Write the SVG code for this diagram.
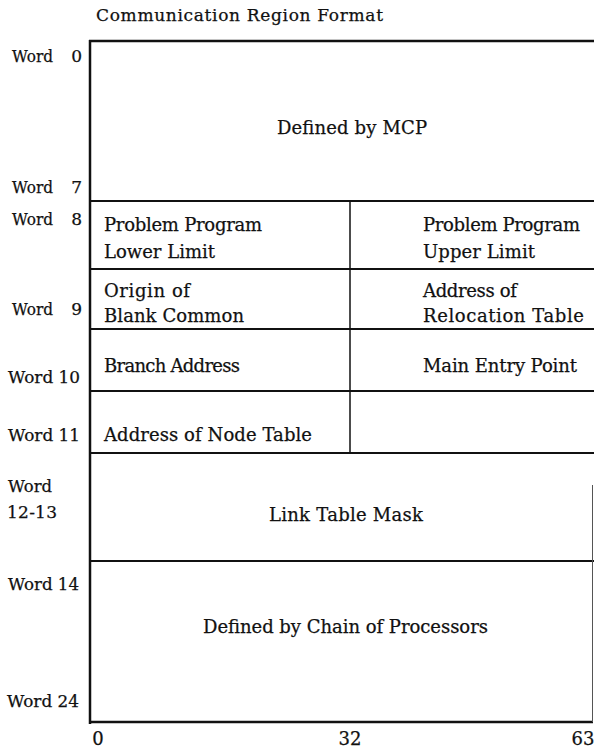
<svg xmlns="http://www.w3.org/2000/svg" width="594" height="750" viewBox="0 0 594 750">
<style>
text{font-family:"DejaVu Serif","Liberation Serif",serif;font-size:18px;fill:#111;stroke:#111;stroke-width:0.25}
.t{font-size:17px}
.w{font-size:17px}
.ax{font-size:18px}
.l{stroke:#111;fill:none}
</style>
<rect width="594" height="750" fill="#fff"/>
<text class="t" x="96" y="21" textLength="287" lengthAdjust="spacing">Communication Region Format</text>
<g id="connectors">
<line class="l" x1="89" y1="41" x2="594" y2="41" stroke-width="2.5"/>
<line class="l" x1="90" y1="40" x2="90" y2="724" stroke-width="2.5"/>
<line class="l" x1="90" y1="201" x2="594" y2="201" stroke-width="2"/>
<line class="l" x1="90" y1="269" x2="594" y2="269" stroke-width="1.8"/>
<line class="l" x1="90" y1="329" x2="594" y2="329" stroke-width="1.8"/>
<line class="l" x1="90" y1="391" x2="594" y2="391" stroke-width="1.8"/>
<line class="l" x1="90" y1="453" x2="594" y2="453" stroke-width="2"/>
<line class="l" x1="90" y1="561" x2="594" y2="561" stroke-width="2"/>
<line class="l" x1="90" y1="722" x2="593" y2="722" stroke-width="2.5"/>
<line class="l" x1="350" y1="201" x2="350" y2="453" stroke-width="1.5"/>
<line x1="592.5" y1="485" x2="592.5" y2="722" stroke="#555" stroke-width="1"/>
</g>
<g id="word0-7">
<text class="w" x="12" y="62" textLength="41" lengthAdjust="spacingAndGlyphs">Word</text><text class="w" x="82" y="62" text-anchor="end">0</text>
<text class="w" x="12" y="193" textLength="41" lengthAdjust="spacingAndGlyphs">Word</text><text class="w" x="82" y="193" text-anchor="end">7</text>
<text x="277" y="134" textLength="150" lengthAdjust="spacing">Defined by MCP</text>
</g>
<g id="word8">
<text class="w" x="12" y="225" textLength="41" lengthAdjust="spacingAndGlyphs">Word</text><text class="w" x="82" y="225" text-anchor="end">8</text>
<text x="104" y="231" textLength="158" lengthAdjust="spacing">Problem Program</text>
<text x="104" y="258" textLength="111" lengthAdjust="spacing">Lower Limit</text>
<text x="423" y="231" textLength="157" lengthAdjust="spacing">Problem Program</text>
<text x="423" y="258" textLength="112" lengthAdjust="spacing">Upper Limit</text>
</g>
<g id="word9">
<text class="w" x="12" y="315" textLength="41" lengthAdjust="spacingAndGlyphs">Word</text><text class="w" x="82" y="315" text-anchor="end">9</text>
<text x="104" y="297" textLength="86" lengthAdjust="spacing">Origin of</text>
<text x="104" y="322" textLength="140" lengthAdjust="spacing">Blank Common</text>
<text x="423" y="297" textLength="94" lengthAdjust="spacing">Address of</text>
<text x="423" y="322" textLength="161" lengthAdjust="spacing">Relocation Table</text>
</g>
<g id="word10">
<text class="w" x="8" y="383" textLength="72" lengthAdjust="spacingAndGlyphs">Word 10</text>
<text x="104" y="372" textLength="136" lengthAdjust="spacing">Branch Address</text>
<text x="423" y="372" textLength="154" lengthAdjust="spacing">Main Entry Point</text>
</g>
<g id="word11">
<text class="w" x="8" y="441" textLength="72" lengthAdjust="spacingAndGlyphs">Word 11</text>
<text x="104" y="441" textLength="208" lengthAdjust="spacing">Address of Node Table</text>
</g>
<g id="word12-13">
<text class="w" x="8" y="492" textLength="44" lengthAdjust="spacingAndGlyphs">Word</text>
<text class="w" x="7" y="518" textLength="50" lengthAdjust="spacing">12-13</text>
<text x="269" y="521" textLength="154" lengthAdjust="spacing">Link Table Mask</text>
</g>
<g id="word14-24">
<text class="w" x="8" y="590" textLength="71" lengthAdjust="spacingAndGlyphs">Word 14</text>
<text class="w" x="7" y="707" textLength="72" lengthAdjust="spacingAndGlyphs">Word 24</text>
<text x="203" y="633" textLength="285" lengthAdjust="spacing">Defined by Chain of Processors</text>
</g>
<g id="axis">
<text class="ax" x="98" y="745" text-anchor="middle">0</text>
<text class="ax" x="350" y="745" text-anchor="middle">32</text>
<text class="ax" x="583" y="745" text-anchor="middle">63</text>
</g>
</svg>
